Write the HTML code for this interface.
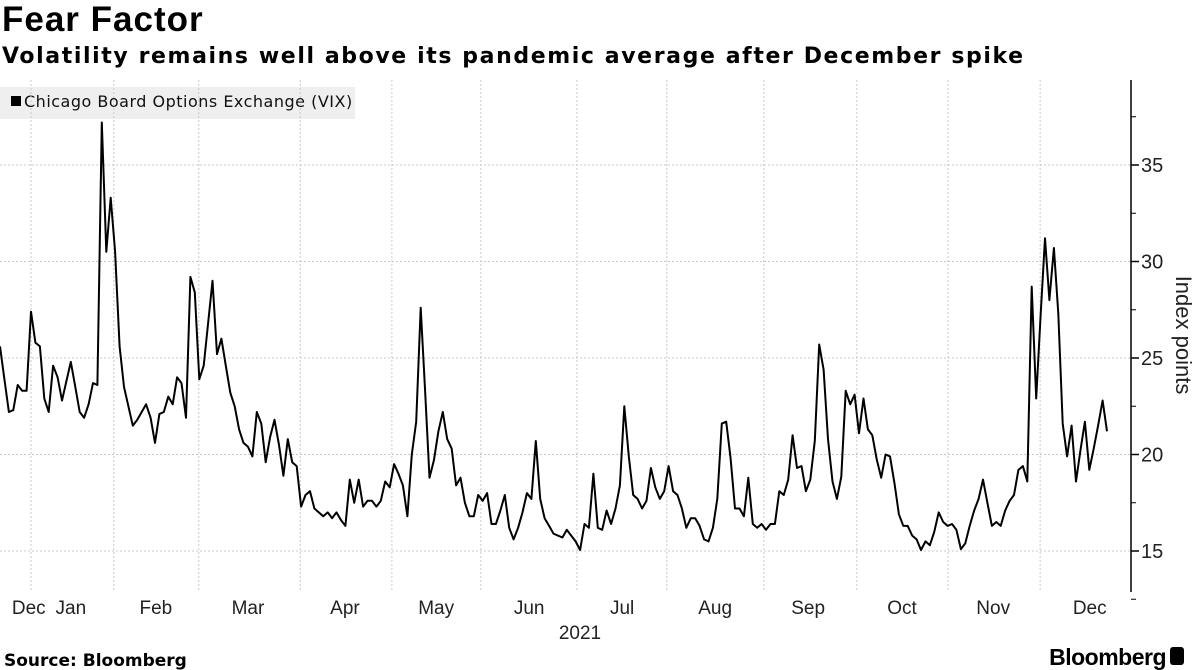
<!DOCTYPE html>
<html><head><meta charset="utf-8">
<style>
body{margin:0;background:#fff;width:1197px;height:670px;overflow:hidden;font-family:"Liberation Sans","DejaVu Sans",sans-serif;}
#title{position:absolute;left:2px;top:0px;font-size:35px;font-weight:bold;color:#000;letter-spacing:1px;}
#sub{position:absolute;left:2px;top:44px;font-size:22px;font-weight:bold;color:#000;letter-spacing:1.6px;font-family:"DejaVu Sans","Liberation Sans",sans-serif;}
svg{position:absolute;left:0;top:0;}
</style></head><body>
<div id="title">Fear Factor</div>
<div id="sub">Volatility remains well above its pandemic average after December spike</div>
<svg id="chart" width="1197" height="670"></svg>
<script>
const vix = [25.6,23.9,22.2,22.3,23.6,23.3,23.3,27.4,25.8,25.6,22.9,22.2,24.6,24.0,22.8,23.8,24.8,23.5,22.2,21.9,22.6,23.7,23.6,37.2,30.5,33.3,30.5,25.6,23.5,22.5,21.5,21.8,22.2,22.6,21.9,20.6,22.1,22.2,23.0,22.6,24.0,23.7,21.9,29.2,28.4,23.9,24.6,26.8,29.0,25.2,26.0,24.6,23.2,22.5,21.3,20.6,20.4,19.9,22.2,21.6,19.6,20.9,21.8,20.5,
18.9,20.8,19.6,19.4,17.3,17.9,18.1,17.2,17.0,16.8,17.0,16.7,17.0,16.6,16.3,18.7,17.5,18.7,17.3,17.6,17.6,17.3,17.6,18.6,18.3,19.5,19.0,18.4,16.8,20.0,21.7,27.6,23.3,18.8,19.7,21.2,22.2,20.8,20.3,18.4,18.8,17.5,16.8,16.8,17.9,17.6,18.0,16.4,16.4,17.1,17.9,16.2,15.6,16.2,17.0,18.0,17.7,20.7,17.7,16.7,16.3,15.9,
15.8,15.7,16.1,15.8,15.5,15.05,16.4,16.2,19.0,16.2,16.1,17.1,16.4,17.2,18.4,22.5,19.9,17.9,17.7,17.2,17.6,19.3,18.3,17.7,18.1,19.4,18.1,17.9,17.2,16.2,16.7,16.7,16.3,15.6,15.5,16.2,17.7,21.6,21.7,19.8,17.2,17.2,16.8,18.8,16.4,16.2,16.4,16.1,16.4,16.4,18.1,17.9,18.7,21.0,19.3,19.4,18.1,18.7,20.7,25.7,24.4,20.8,18.6,17.7,
18.85,23.3,22.6,23.1,21.1,22.9,21.3,21.0,19.75,18.8,20.0,19.9,18.5,16.9,16.3,16.3,15.8,15.6,15.05,15.5,15.3,16.0,17.0,16.5,16.3,16.4,16.1,15.1,15.4,16.3,17.1,17.7,18.7,17.5,16.3,16.5,16.3,17.1,17.6,17.9,19.2,19.4,18.6,28.7,22.9,27.2,31.2,28.0,30.7,27.3,21.6,19.9,21.5,18.6,20.2,21.7,19.2,20.3,21.5,22.8,21.2];
const yTicks = [15,20,25,30,35];
const monthLabels = ["Dec","Jan","Feb","Mar","Apr","May","Jun","Jul","Aug","Sep","Oct","Nov","Dec"];
const monthLabelIdx = [6.5,16.0,35.2,56.0,77.9,98.5,119.5,140.5,161.5,182.5,203.7,224.3,246.1];
const gridIdx = [7.0,25.7,44.9,67.8,88.5,108.6,130.3,150.6,172.5,193.5,214.1,234.9];

const NS='http://www.w3.org/2000/svg';
const svg=document.getElementById('chart');
const X0=0, X1=1107, AX=1131, TOP=80, BOT=592;
const xs=i=>X0+(X1-X0)*i/250;
const ys=v=>551-(v-15)*19.3;
function mk(tag,attrs,parent){const e=document.createElementNS(NS,tag);for(const k in attrs)e.setAttribute(k,attrs[k]);(parent||svg).appendChild(e);return e;}

// legend
const lg=mk('g',{});


mk('rect',{x:0,y:87,width:355,height:32,fill:'#efefef'},lg);
mk('rect',{x:11,y:96,width:10,height:10,fill:'#000'},lg);
const lt=mk('text',{x:24,y:107,'font-size':16,'letter-spacing':0.5,fill:'#111','font-family':'DejaVu Sans, Liberation Sans, sans-serif'},lg);
lt.textContent='Chicago Board Options Exchange (VIX)';

// horizontal grid + y ticks
yTicks.forEach(t=>{
  const gl=mk('line',{x1:0,x2:AX,y1:ys(t),y2:ys(t),stroke:'#c8c8c8','stroke-dasharray':'2,2','stroke-width':1});
  
  
  mk('line',{x1:AX,x2:AX+8,y1:ys(t),y2:ys(t),stroke:'#000','stroke-width':1.5});
  mk('line',{x1:AX,x2:AX+5,y1:ys(t+2.5),y2:ys(t+2.5),stroke:'#000','stroke-width':1});
  const tx=mk('text',{x:AX+10,y:ys(t)+7,'font-size':20,fill:'#222'});
  tx.textContent=t;
  
  
});
mk('line',{x1:AX+5,x2:AX,y1:ys(12.5),y2:ys(12.5),stroke:'#000','stroke-width':1});
// vertical grid
gridIdx.forEach(i=>{
  const gl=mk('line',{x1:xs(i),x2:xs(i),y1:TOP,y2:BOT,stroke:'#c8c8c8','stroke-dasharray':'2,2','stroke-width':1});
  
  
});
// axis
const ax=mk('line',{x1:AX,x2:AX,y1:TOP,y2:BOT,stroke:'#000','stroke-width':1.5});


// month labels
monthLabels.forEach((m,k)=>{
  const tx=mk('text',{x:xs(monthLabelIdx[k]),y:614,'font-size':19,fill:'#222','text-anchor':'middle'});
  tx.textContent=m;
  
  
});
const yr=mk('text',{x:580,y:639,'font-size':19,fill:'#222','text-anchor':'middle'});
yr.textContent='2021';


// y title
const yt=mk('text',{x:0,y:0,'font-size':22,fill:'#222','text-anchor':'middle',transform:'translate(1176,335) rotate(90)'});
yt.textContent='Index points';


// line
const d=vix.map((v,i)=>(i?'L':'M')+xs(i).toFixed(1)+','+ys(v).toFixed(1)).join('');
const ln=mk('path',{d:d,fill:'none',stroke:'#000','stroke-width':2,'stroke-linejoin':'round'});


// footer
const src=mk('text',{x:4,y:666,'font-size':17,'font-weight':'bold',fill:'#000','font-family':'DejaVu Sans, Liberation Sans, sans-serif'});
src.textContent='Source: Bloomberg';


const bb=mk('text',{x:1166,y:665,'font-size':23,'font-weight':'bold',fill:'#000','text-anchor':'end','letter-spacing':'-0.5'});
bb.textContent='Bloomberg';


mk('rect',{x:1170,y:647,width:14,height:18,rx:3,fill:'#000'});
</script>
</body></html>
